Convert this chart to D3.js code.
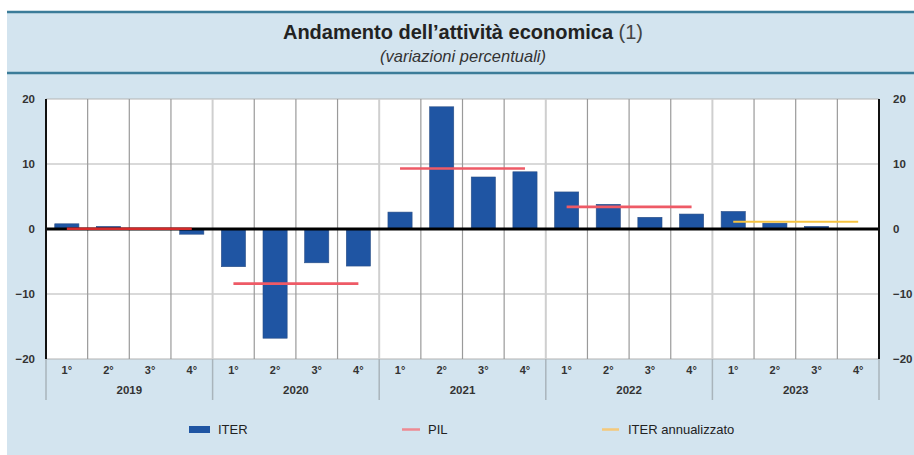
<!DOCTYPE html>
<html>
<head>
<meta charset="utf-8">
<script src="https://cdn.jsdelivr.net/npm/d3@7"></script>
<style>
  body { margin: 0; background: #fff; }
  svg text { font-family: "Liberation Sans", Arial, sans-serif; }
</style>
</head>
<body>
<svg id="chart" width="914" height="455"></svg>
<script>
// quarters and years on the x axis
var years = ["2019", "2020", "2021", "2022", "2023"];
var quarters = ["1°", "2°", "3°", "4°"];

// ITER, quarterly changes
var iterValues = [0.8, 0.4, 0.0, -0.8,
                  -5.8, -16.8, -5.2, -5.7,
                  2.6, 18.8, 8.0, 8.8,
                  5.7, 3.8, 1.8, 2.3,
                  2.7, 0.9, 0.4, 0.0];

// PIL, yearly change, one line per year
var pilYears = ["2019", "2020", "2021", "2022"];
var pilValues = [0.05, -8.4, 9.3, 3.4];

// ITER annualizzato
var annYears = ["2023"];
var annValues = [1.1];

var yTicks = [20, 10, 0, -10, -20];

var svg = d3.select("#chart");
var W = 914, H = 455;
var pLeft = 46, pRight = 879, pTop = 99, pBottom = 359;

// panel background
svg.append("rect").attr("x", 7).attr("y", 12).attr("width", W - 7).attr("height", H - 12)
   .attr("fill", "#d3e4ef");
svg.append("line").attr("x1", 7).attr("x2", W).attr("y1", 12).attr("y2", 12)
   .attr("stroke", "#3b7c99").attr("stroke-width", 2.5);
svg.append("line").attr("x1", 7).attr("x2", W).attr("y1", 73).attr("y2", 73)
   .attr("stroke", "#3b7c99").attr("stroke-width", 2.5);

// title
var title = svg.append("text").attr("x", 463).attr("y", 39).attr("text-anchor", "middle")
   .attr("font-size", 20).attr("fill", "#222");
title.append("tspan").attr("font-weight", "bold").text("Andamento dell’attività economica");
title.append("tspan").attr("fill", "#444").text(" (1)");
svg.append("text").attr("x", 463).attr("y", 62).attr("text-anchor", "middle")
   .attr("font-size", 16.5).attr("font-style", "italic").attr("fill", "#333")
   .text("(variazioni percentuali)");

// scales
var keys = [];
years.forEach(function (y) { quarters.forEach(function (q) { keys.push(y + "-" + q); }); });

var x = d3.scaleBand().domain(keys).range([pLeft, pRight]).paddingInner(0.42).paddingOuter(0.21);
var step = x.step();
var y = d3.scaleLinear().domain([-20, 20]).range([pBottom, pTop]);

// plot area
svg.append("rect").attr("x", pLeft).attr("y", pTop).attr("width", pRight - pLeft).attr("height", pBottom - pTop)
   .attr("fill", "#fff");

// horizontal grid
svg.selectAll(".hgrid").data(yTicks).enter().append("line")
   .attr("x1", pLeft).attr("x2", pRight)
   .attr("y1", function (d) { return y(d); }).attr("y2", function (d) { return y(d); })
   .attr("stroke", "#b4b4b4").attr("stroke-width", 1.2);

// vertical grid, one per quarter boundary
svg.selectAll(".vgrid").data(d3.range(1, keys.length)).enter().append("line")
   .attr("x1", function (d) { return pLeft + d * step; })
   .attr("x2", function (d) { return pLeft + d * step; })
   .attr("y1", pTop).attr("y2", pBottom)
   .attr("stroke", function (d) { return d % 4 === 0 ? "#cfcfcf" : "#9a9a9a"; })
   .attr("stroke-width", function (d) { return d % 4 === 0 ? 2 : 1.2; });

// year separators below the plot
svg.selectAll(".ysep").data(d3.range(0, years.length + 1)).enter().append("line")
   .attr("x1", function (d) { return pLeft + d * 4 * step; })
   .attr("x2", function (d) { return pLeft + d * 4 * step; })
   .attr("y1", pBottom).attr("y2", 400)
   .attr("stroke", "#a9b4bb").attr("stroke-width", 1.5);

// bars
svg.selectAll(".bar").data(iterValues).enter().append("rect")
   .attr("x", function (d, i) { return x(keys[i]); })
   .attr("width", x.bandwidth())
   .attr("y", function (d) { return y(Math.max(0, d)); })
   .attr("height", function (d) { return Math.abs(y(d) - y(0)); })
   .attr("fill", "#1f55a3").attr("stroke", "#2b4f86").attr("stroke-width", 0.6);

// zero line
svg.append("line").attr("x1", pLeft).attr("x2", pRight).attr("y1", y(0)).attr("y2", y(0))
   .attr("stroke", "#000").attr("stroke-width", 3);

// side axes
[pLeft, pRight].forEach(function (xx) {
  svg.append("line").attr("x1", xx).attr("x2", xx).attr("y1", pTop).attr("y2", pBottom)
     .attr("stroke", "#111").attr("stroke-width", 2);
});

function yearSpan(yr) {
  return [x(yr + "-1°") + x.bandwidth() / 2, x(yr + "-4°") + x.bandwidth() / 2];
}

// PIL lines
svg.selectAll(".pil").data(pilValues).enter().append("line")
   .attr("x1", function (d, i) { return yearSpan(pilYears[i])[0]; })
   .attr("x2", function (d, i) { return yearSpan(pilYears[i])[1]; })
   .attr("y1", function (d) { return y(d); }).attr("y2", function (d) { return y(d); })
   .attr("stroke", function (d, i) { return i === 0 ? "#d42a2a" : "#ee5a66"; })
   .attr("stroke-width", 2.6);

// ITER annualizzato
svg.selectAll(".ann").data(annValues).enter().append("line")
   .attr("x1", function (d, i) { return yearSpan(annYears[i])[0]; })
   .attr("x2", function (d, i) { return yearSpan(annYears[i])[1]; })
   .attr("y1", function (d) { return y(d); }).attr("y2", function (d) { return y(d); })
   .attr("stroke", "#f6c340").attr("stroke-width", 2);

// y labels on both sides
var yLeft = d3.axisLeft(y).tickValues(yTicks).tickSize(0).tickPadding(11);
var gl = svg.append("g").attr("transform", "translate(" + pLeft + ",0)").call(yLeft);
var yRight = d3.axisRight(y).tickValues(yTicks).tickSize(0).tickPadding(14);
var gr = svg.append("g").attr("transform", "translate(" + pRight + ",0)").call(yRight);
[gl, gr].forEach(function (g) {
  g.select(".domain").remove();
  g.selectAll("text").attr("font-size", 11.5).attr("font-weight", "bold").attr("fill", "#333")
   .style("font-family", "'Liberation Sans', Arial, sans-serif");
});

// quarter labels
var xAxis = d3.axisBottom(x).tickSize(0).tickPadding(7).tickFormat(function (d) { return d.split("-")[1]; });
var gx = svg.append("g").attr("transform", "translate(0," + pBottom + ")").call(xAxis);
gx.select(".domain").remove();
gx.selectAll("text").attr("font-size", 11).attr("font-weight", "bold").attr("fill", "#333")
  .style("font-family", "'Liberation Sans', Arial, sans-serif");

// year labels
svg.selectAll(".yearlab").data(years).enter().append("text")
   .attr("x", function (d, i) { return pLeft + (i * 4 + 2) * step; })
   .attr("y", 394).attr("text-anchor", "middle")
   .attr("font-size", 11.5).attr("font-weight", "bold").attr("fill", "#333")
   .style("font-family", "'Liberation Sans', Arial, sans-serif")
   .text(function (d) { return d; });

// legend
var lg = svg.append("g").attr("font-size", 13).attr("fill", "#222");
lg.append("rect").attr("x", 189).attr("y", 426).attr("width", 21).attr("height", 7).attr("fill", "#1f55a3");
lg.append("text").attr("x", 218).attr("y", 434).text("ITER");
lg.append("line").attr("x1", 402).attr("x2", 420).attr("y1", 429.5).attr("y2", 429.5)
  .attr("stroke", "#ee8a92").attr("stroke-width", 2.5);
lg.append("text").attr("x", 428).attr("y", 434).text("PIL");
lg.append("line").attr("x1", 602).attr("x2", 619).attr("y1", 429.5).attr("y2", 429.5)
  .attr("stroke", "#f5c97a").attr("stroke-width", 2.5);
lg.append("text").attr("x", 628).attr("y", 434).text("ITER annualizzato");
</script>
</body>
</html>
